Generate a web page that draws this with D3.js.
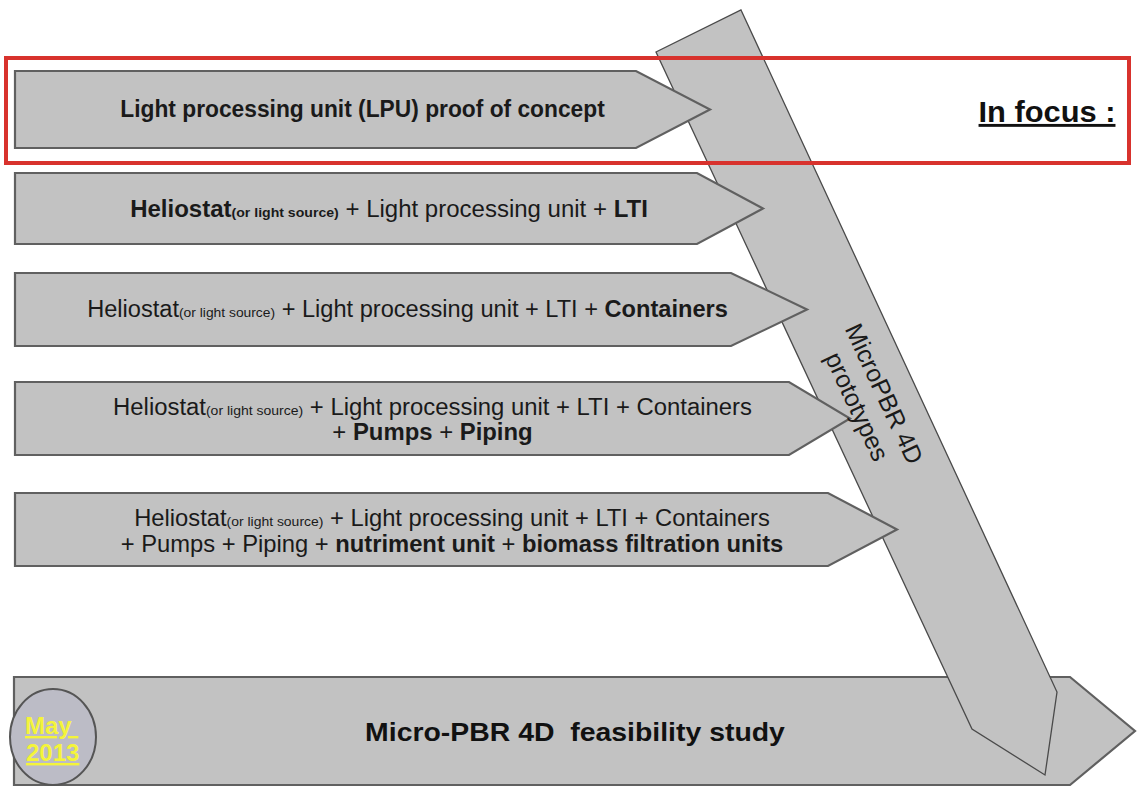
<!DOCTYPE html>
<html>
<head>
<meta charset="utf-8">
<script src="https://cdn.jsdelivr.net/npm/d3@7"></script>
<style>
html, body { margin: 0; padding: 0; background: #fff; }
svg { display: block; }
text { font-family: "Liberation Sans", Arial, Helvetica, sans-serif; white-space: pre; }
</style>
</head>
<body>
<svg id="svg" width="1139" height="787"></svg>
<script>
// Stage labels: each stage is a list of lines, each line a list of [text, style]
// style: n = normal, b = bold, s = small, bs = small bold
var stageLines = [
	[[["Light processing unit (LPU) proof of concept", "b"]]],
	[[["Heliostat", "b"], ["(or light source)", "bs"], [" + Light processing unit + ", "n"], ["LTI", "b"]]],
	[[["Heliostat", "n"], ["(or light source)", "s"], [" + Light processing unit + LTI + ", "n"], ["Containers", "b"]]],
	[[["Heliostat", "n"], ["(or light source)", "s"], [" + Light processing unit + LTI + Containers", "n"]],
	 [["+ ", "n"], ["Pumps", "b"], [" + ", "n"], ["Piping", "b"]]],
	[[["Heliostat", "n"], ["(or light source)", "s"], [" + Light processing unit + LTI + Containers", "n"]],
	 [["+ Pumps + Piping + ", "n"], ["nutriment unit", "b"], [" + ", "n"], ["biomass filtration units", "b"]]]
];

var bigArrowLines = ["MicroPBR 4D", "prototypes"];
var baseLabel = "Micro-PBR 4D  feasibility study";
var dateLines = ["May\u00a0", "2013"];
var focusLabel = "In focus :";

// ---- layout ----
var rowLeft = 15;
var rowTop = [71, 173, 273, 382, 493];
var rowBottom = [148, 244, 346, 455, 566];
var rowShoulder = [636, 697, 731, 789, 828];
var rowTip = [710, 763, 807, 850, 897];
var textBox = [[120, 605], [130, 648], [87, 728], [113, 752], [134, 770]];
var baseY = [[117], [217], [317], [415, 440], [526, 552]];

var FILL = "#c2c2c2", EDGE = "#606060";

var styles = {
	n: { size: 23, weight: "normal" },
	b: { size: 23, weight: "bold" },
	s: { size: 13.5, weight: "normal" },
	bs: { size: 13.5, weight: "bold" }
};

var svg = d3.select("#svg");
var line = d3.line();

// put a text line centred at cx and squeezed to fit a width
function fitText(sel, cx, y, width, sx){
	var len = sel.node().getComputedTextLength();
	var k = sx || (width ? width / len : 1);
	sel.attr("transform", "translate(" + cx + "," + y + ") scale(" + k + ",1)");
	return k;
}

// ---- bottom feasibility arrow ----
var baseTop = 677, baseBottom = 785, baseShoulder = 1070, baseTip = 1135;
svg.append("path")
	.attr("d", line([[14, baseTop], [baseShoulder, baseTop], [baseTip, (baseTop + baseBottom) / 2],
		[baseShoulder, baseBottom], [14, baseBottom]]) + "Z")
	.attr("fill", FILL).attr("stroke", EDGE).attr("stroke-width", 2.2);

// ---- big diagonal prototypes arrow ----
var bigArrow = [[741, 10], [1057, 692], [1045, 775], [972, 729], [656, 52]];
svg.append("path")
	.attr("d", line(bigArrow) + "Z")
	.attr("fill", FILL).attr("stroke", "#4a4a4a").attr("stroke-width", 1.3);

// ---- stage arrows ----
var rows = svg.selectAll("g.stage")
	.data(stageLines)
	.enter().append("g")
	.attr("class", "stage");

rows.append("path")
	.attr("d", function(d, i){
		var t = rowTop[i], b = rowBottom[i];
		return line([[rowLeft, t], [rowShoulder[i], t], [rowTip[i], (t + b) / 2],
			[rowShoulder[i], b], [rowLeft, b]]) + "Z";
	})
	.attr("fill", FILL).attr("stroke", EDGE).attr("stroke-width", 2.2);

rows.each(function(lines, i){
	var g = d3.select(this),
		cx = (textBox[i][0] + textBox[i][1]) / 2,
		w = textBox[i][1] - textBox[i][0],
		k;
	lines.forEach(function(pieces, j){
		var t = g.append("text")
			.attr("text-anchor", "middle")
			.attr("fill", "#1a1a1a");
		pieces.forEach(function(p){
			t.append("tspan")
				.attr("font-size", styles[p[1]].size)
				.attr("font-weight", styles[p[1]].weight)
				.text(p[0]);
		});
		if (j === 0) k = fitText(t, cx, baseY[i][j], w);
		else fitText(t, cx, baseY[i][j], null, k);
	});
});

// ---- text along the big arrow ----
var ang = Math.atan2(729 - 52, 972 - 656) * 180 / Math.PI;
var bigText = svg.append("g")
	.attr("transform", "translate(871,400) rotate(" + ang + ")");
bigText.selectAll("text")
	.data(bigArrowLines)
	.enter().append("text")
	.attr("text-anchor", "middle")
	.attr("y", function(d, i){ return -6 + i * 30; })
	.attr("font-size", 25)
	.attr("fill", "#1a1a1a")
	.text(function(d){ return d; });

// ---- base label ----
var bt = svg.append("text")
	.attr("text-anchor", "middle")
	.attr("font-size", 25)
	.attr("font-weight", "bold")
	.attr("fill", "#111")
	.text(baseLabel);
fitText(bt, 575, 741, 420);

// ---- date circle ----
svg.append("ellipse")
	.attr("cx", 53).attr("cy", 737).attr("rx", 43).attr("ry", 48)
	.attr("fill", "#bcbcc6").attr("stroke", "#555").attr("stroke-width", 2);
svg.selectAll("text.date")
	.data(dateLines)
	.enter().append("text")
	.attr("class", "date")
	.attr("x", function(d, i){ return i ? 26 : 25; })
	.attr("y", function(d, i){ return i ? 761 : 734; })
	.attr("font-size", 24)
	.attr("font-weight", "bold")
	.attr("fill", "#f4f43a")
	.attr("text-decoration", "underline")
	.text(function(d){ return d; });

// ---- focus frame ----
svg.append("rect")
	.attr("x", 6).attr("y", 58).attr("width", 1123).attr("height", 105)
	.attr("fill", "none").attr("stroke", "#d8322d").attr("stroke-width", 4);

var ft = svg.append("text")
	.attr("text-anchor", "middle")
	.attr("font-size", 29)
	.attr("font-weight", "bold")
	.attr("fill", "#111")
	.attr("text-decoration", "underline")
	.text(focusLabel);
fitText(ft, 1047, 122, 137);
</script>
</body>
</html>
